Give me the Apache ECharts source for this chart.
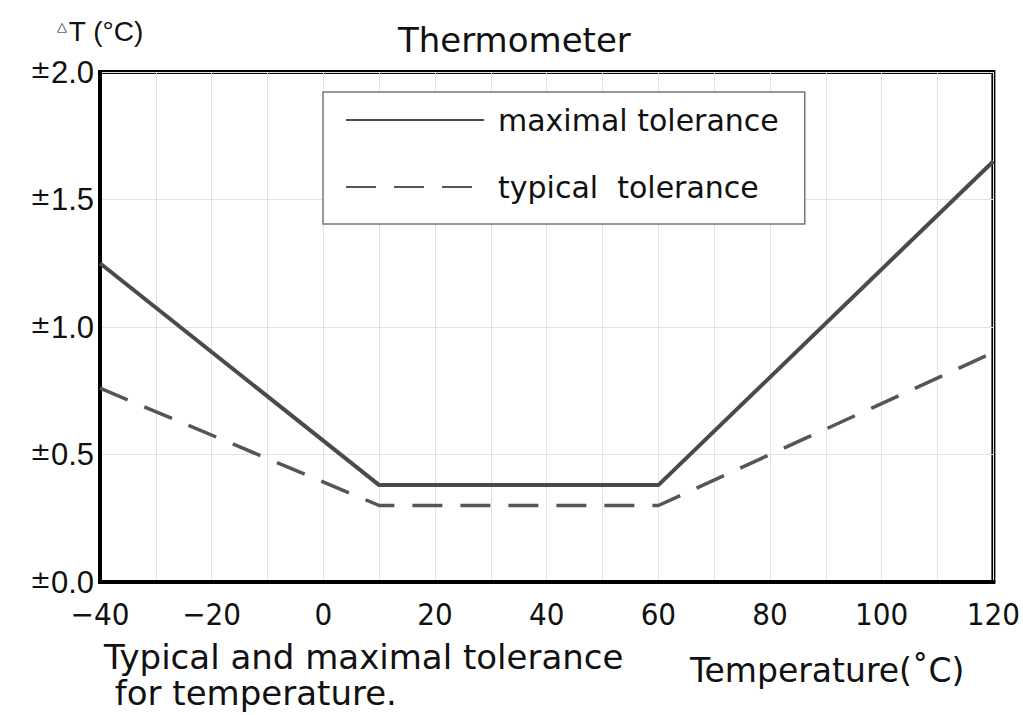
<!DOCTYPE html>
<html>
<head>
<meta charset="utf-8">
<script src="https://cdn.jsdelivr.net/npm/echarts@6/dist/echarts.min.js"></script>
<style>
  html, body { margin: 0; padding: 0; background: #fff; }
  #chart { width: 1023px; height: 715px; }
</style>
</head>
<body>
<div id="chart"></div>
<script>
(function() {
  var ink = '#111';
  var lineColor = '#4a4a4a';
  var gridColor = '#e2e2e2';
  var wide = "'DejaVu Sans', sans-serif";
  var sans = "'Liberation Sans', Arial, sans-serif";
  var narrow = "'Liberation Sans Narrow', 'DejaVu Sans Condensed', 'Liberation Sans', sans-serif";

  // data
  var maxTolerance = [[-40, 1.25], [10, 0.38], [60, 0.38], [120, 1.65]];
  var typTolerance = [[-40, 0.76], [10, 0.30], [60, 0.30], [120, 0.90]];
  var xLabelStep = 20;

  var chart = echarts.init(document.getElementById('chart'), null, { renderer: 'svg' });
  chart.setOption({
    animation: false,
    backgroundColor: '#fff',
    title: [
      { text: 'Thermometer', left: 398, top: 21, padding: 0,
        textStyle: { color: ink, fontSize: 34, fontWeight: 'normal', fontFamily: wide, lineHeight: 38 } },
      { text: 'Typical and maximal tolerance\n for temperature.', left: 104, top: 639, padding: 0,
        textStyle: { color: ink, fontSize: 34, fontWeight: 'normal', fontFamily: wide, lineHeight: 36 } },
      { text: 'Temperature(˚C)', left: 690, top: 651, padding: 0,
        textStyle: { color: ink, fontSize: 33, fontWeight: 'normal', fontFamily: wide, lineHeight: 38 } }
    ],
    legend: {
      orient: 'vertical',
      left: 323,
      top: 92,
      padding: [13, 26, 22, 22],
      borderColor: '#777',
      borderWidth: 1.5,
      backgroundColor: '#fff',
      itemWidth: 138,
      itemHeight: 20,
      itemGap: 37,
      itemStyle: { opacity: 0 },
      textStyle: { color: ink, fontSize: 30, fontFamily: wide, lineHeight: 30, padding: [0, 0, 0, 9] },
      data: ['maximal tolerance', 'typical  tolerance']
    },
    grid: { left: 100, right: 26, top: 72, bottom: 133, show: true, borderColor: '#000', borderWidth: 4 },
    xAxis: {
      type: 'value',
      min: -40,
      max: 120,
      interval: 10,
      axisLine: { show: true, onZero: false, lineStyle: { color: '#000', width: 4 } },
      axisTick: { show: false },
      splitLine: { show: true, lineStyle: { color: gridColor, width: 1 } },
      axisLabel: {
        color: ink,
        fontSize: 31,
        fontFamily: narrow,
        margin: 16,
        formatter: function(v) {
          if (v % xLabelStep !== 0) return '';
          return v < 0 ? '\u2212' + Math.abs(v) : String(v);
        }
      }
    },
    yAxis: {
      type: 'value',
      min: 0,
      max: 2,
      interval: 0.5,
      name: '{s|\u25B3}T (°C)',
      nameLocation: 'end',
      nameGap: 27,
      nameTextStyle: {
        color: ink, fontSize: 28, fontFamily: sans,
        rich: { s: { fontSize: 13, color: ink, fontFamily: sans, padding: [0, 2, 10, 0] } }
      },
      axisLine: { show: true, onZero: false, lineStyle: { color: '#000', width: 4 } },
      axisTick: { show: false },
      splitLine: { show: true, lineStyle: { color: gridColor, width: 1 } },
      axisLabel: {
        color: ink,
        margin: 6,
        formatter: function(v) { return '{pm|±}{n|' + v.toFixed(1) + '}'; },
        rich: {
          pm: { fontSize: 25, fontFamily: wide, color: ink, padding: [0, 0, 6, 0] },
          n: { fontSize: 31, fontFamily: sans, color: ink }
        }
      }
    },
    series: [
      {
        name: 'maximal tolerance',
        type: 'line',
        data: maxTolerance,
        symbol: 'none',
        lineStyle: { color: lineColor, width: 4 },
        itemStyle: { color: lineColor },
        z: 3
      },
      {
        name: 'typical  tolerance',
        type: 'line',
        data: typTolerance,
        symbol: 'none',
        lineStyle: { color: '#555', width: 3.5, type: [30, 18] },
        itemStyle: { color: '#555' },
        z: 2
      }
    ]
  });
  window.addEventListener('resize', function() { chart.resize(); });
})();
</script>
</body>
</html>
